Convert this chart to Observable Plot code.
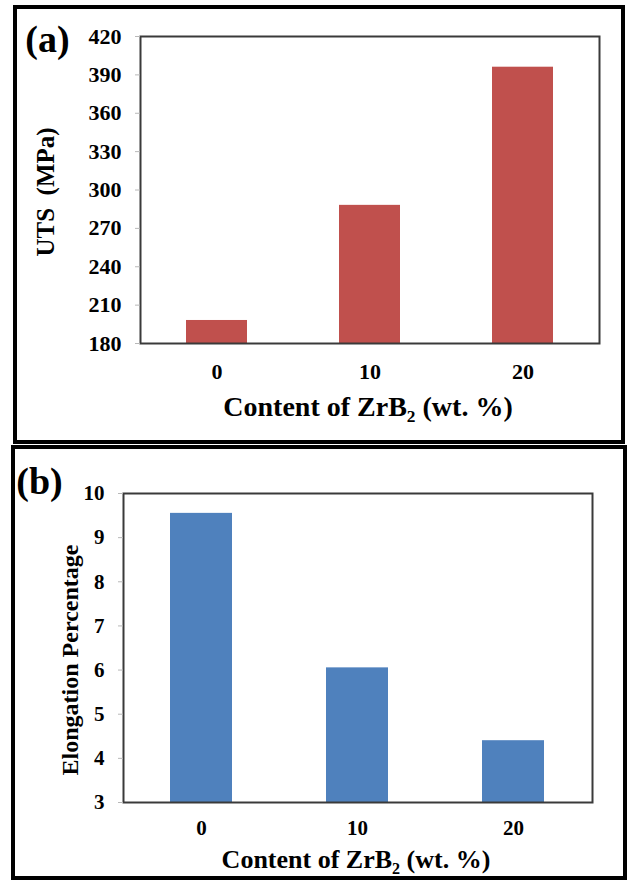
<!DOCTYPE html>
<html><head><meta charset="utf-8">
<script src="https://cdn.jsdelivr.net/npm/d3@7"></script>
<script src="https://cdn.jsdelivr.net/npm/@observablehq/plot@0.6"></script>
<style>
body{margin:0;background:#fff;}
#wrap{position:relative;width:628px;height:882px;overflow:hidden;background:#fff;font-family:"Liberation Serif","Times New Roman",serif;}
.box{position:absolute;border-style:solid;border-color:#000;box-sizing:border-box;}
.plot{position:absolute;left:0;}
.xlab{position:absolute;font-weight:bold;white-space:nowrap;transform:translate(-50%,-50%);line-height:1;color:#000;font-family:"Liberation Serif","Times New Roman",serif;}
.xlab sub{font-size:0.62em;vertical-align:-0.35em;line-height:0;}
</style></head><body>
<div id="wrap">
  <div class="box" style="left:13px;top:5px;width:612px;height:439px;border-width:4px;"></div>
  <div class="box" style="left:11px;top:445px;width:616px;height:435px;border-width:4px;"></div>
  <div id="pa" class="plot" style="top:0px;"></div>
  <div id="pb" class="plot" style="top:450px;"></div>
  <div class="xlab" style="left:368px;top:407px;font-size:28px;">Content of ZrB<sub>2</sub> (wt. %)</div>
  <div class="xlab" style="left:356px;top:860px;font-size:26px;">Content of ZrB<sub>2</sub> (wt. %)</div>
</div>
<script>
// ---- data ----
const contents = ["0", "10", "20"];
const utsValues = [198, 288, 396];
const utsTicks = [180, 210, 240, 270, 300, 330, 360, 390, 420];
const elongValues = [9.55, 6.05, 4.4];
const elongTicks = [3, 4, 5, 6, 7, 8, 9, 10];

const FONT = "'Liberation Serif','Times New Roman',serif";

function panel({values, ticks, color, yLabel, tag, width, height, mt, mb, ml, mr, tickFont, yLabelFont, yLabelDx, yLabelDy, tagDx, tagDy, xPad}) {
  const rows = contents.map((c, i) => ({content: c, value: values[i]}));
  const base = ticks[0];
  return Plot.plot({
    width, height,
    marginTop: mt, marginBottom: mb, marginLeft: ml, marginRight: mr,
    style: {fontFamily: FONT, background: "transparent", overflow: "visible"},
    x: {domain: contents, paddingInner: 0.6, paddingOuter: 0.3, label: null},
    y: {domain: [ticks[0], ticks[ticks.length - 1]], label: null},
    marks: [
      Plot.barY(rows, {x: "content", y1: () => base, y2: "value", fill: color}),
      Plot.frame({stroke: "#3a3a3a", strokeWidth: 2}),
      Plot.axisY({ticks, tickFormat: d => String(d), tickSize: 5, tickPadding: 14, stroke: "#b8b8b8", fill: "#000", fontSize: tickFont, fontWeight: "bold", fontFamily: FONT, label: null}),
      Plot.axisX({tickSize: 0, tickPadding: xPad, fill: "#000", fontSize: tickFont, fontWeight: "bold", fontFamily: FONT, label: null}),
      Plot.text([yLabel], {frameAnchor: "left", dx: yLabelDx, dy: yLabelDy, rotate: -90, text: d => d, fontSize: yLabelFont, fontWeight: "bold", fontFamily: FONT, fill: "#000", textAnchor: "middle", lineAnchor: "middle"}),
      Plot.text([tag], {frameAnchor: "top-left", dx: tagDx, dy: tagDy, text: d => d, fontSize: 38, fontWeight: "bold", fontFamily: FONT, fill: "#000", textAnchor: "middle", lineAnchor: "middle"})
    ]
  });
}

document.getElementById("pa").append(panel({
  values: utsValues, ticks: utsTicks, color: "#C0504D", yLabel: "UTS  (MPa)", tag: "(a)",
  width: 628, height: 400, mt: 36, mb: 57, ml: 140, mr: 29,
  tickFont: 22, yLabelFont: 25, yLabelDx: -95, yLabelDy: 2, tagDx: -93, tagDy: 3, xPad: 20
}));

document.getElementById("pb").append(panel({
  values: elongValues, ticks: elongTicks, color: "#4F81BD", yLabel: "Elongation Percentage", tag: "(b)",
  width: 628, height: 400, mt: 43, mb: 48, ml: 123, mr: 36,
  tickFont: 21, yLabelFont: 24, yLabelDx: -53, yLabelDy: 12, tagDx: -84, tagDy: -12, xPad: 18
}));
</script>
</body></html>
